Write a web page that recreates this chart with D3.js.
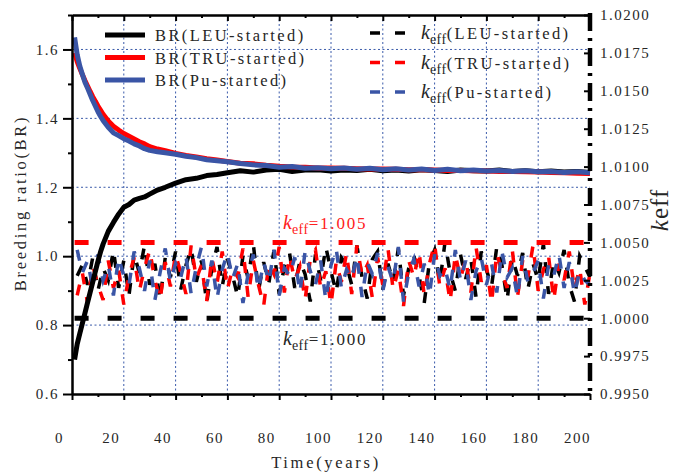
<!DOCTYPE html>
<html>
<head>
<meta charset="utf-8">
<script src="https://cdn.jsdelivr.net/npm/d3@7"></script>
<style>
  body { margin: 0; background: #fff; }
  svg { display: block; }
</style>
</head>
<body>
<svg id="chart" width="674" height="476"></svg>
<script>
// ---- data ----
const brYears = [1,2,3,4,5,6,7,8,9,10,11,12,14,16,18,20,22,24,26,28,30,33,36,40,44,48,52,56,60,
  65,70,75,80,85,90,95,100,105,110,115,120,125,130,135,140,145,150,155,160,165,170,175,180,185,190,195,200];

const brLEU = [0.700,0.745,0.775,0.805,0.835,0.865,0.895,0.925,0.955,0.985,1.012,1.035,1.072,1.098,1.122,1.142,1.150,1.163,1.168,1.172,1.180,1.192,1.200,1.212,1.222,1.226,1.234,1.237,1.242,
  1.248,1.244,1.250,1.252,1.246,1.250,1.251,1.247,1.250,1.249,1.252,1.248,1.250,1.247,1.251,1.249,1.246,1.250,1.248,1.247,1.250,1.246,1.248,1.245,1.247,1.244,1.246,1.243];

const brTRU = [1.590,1.565,1.545,1.527,1.510,1.494,1.478,1.463,1.450,1.436,1.424,1.412,1.392,1.377,1.366,1.356,1.348,1.340,1.332,1.326,1.318,1.311,1.306,1.298,1.292,1.288,1.283,1.279,1.275,
  1.270,1.268,1.264,1.261,1.259,1.258,1.256,1.256,1.255,1.254,1.253,1.253,1.252,1.251,1.251,1.250,1.249,1.249,1.248,1.247,1.246,1.246,1.245,1.244,1.243,1.242,1.241,1.240];

const brPu = [1.635,1.585,1.552,1.528,1.505,1.488,1.470,1.452,1.436,1.420,1.406,1.394,1.374,1.358,1.350,1.341,1.334,1.326,1.320,1.312,1.307,1.303,1.300,1.296,1.290,1.286,1.280,1.277,1.274,
  1.269,1.265,1.263,1.258,1.260,1.255,1.257,1.254,1.256,1.252,1.255,1.251,1.254,1.250,1.253,1.249,1.252,1.248,1.250,1.247,1.249,1.246,1.248,1.245,1.246,1.243,1.245,1.242];

const keffYears = d3.range(2, 201, 2);

const keffLEU = [1.0028,1.0035,1.0022,1.0040,1.0018,1.0033,1.0025,1.0045,1.0020,1.0038,
  1.0015,1.0042,1.0030,1.0048,1.0022,1.0036,1.0012,1.0040,1.0027,1.0044,
  1.0019,1.0035,1.0046,1.0024,1.0038,1.0010,1.0033,1.0047,1.0021,1.0039,
  1.0028,1.0014,1.0041,1.0026,1.0049,1.0018,1.0037,1.0023,1.0045,1.0016,
  1.0034,1.0043,1.0020,1.0038,1.0029,1.0011,1.0042,1.0025,1.0047,1.0031,
  1.0017,1.0040,1.0035,1.0022,1.0048,1.0027,1.0013,1.0039,1.0044,1.0019,
  1.0036,1.0024,1.0046,1.0015,1.0033,1.0041,1.0028,1.0010,1.0037,1.0045,
  1.0023,1.0050,1.0030,1.0018,1.0042,1.0026,1.0039,1.0014,1.0044,1.0032,
  1.0021,1.0047,1.0035,1.0012,1.0040,1.0028,1.0043,1.0019,1.0036,1.0025,
  1.0049,1.0016,1.0038,1.0030,1.0045,1.0022,1.0011,1.0041,1.0034,1.0027];

const keffTRU = [1.0015,1.0030,1.0010,1.0035,1.0022,1.0012,1.0038,1.0020,1.0032,1.0009,
  1.0028,1.0040,1.0018,1.0033,1.0045,1.0025,1.0012,1.0037,1.0021,1.0042,
  1.0030,1.0016,1.0048,1.0026,1.0035,1.0011,1.0040,1.0023,1.0044,1.0019,
  1.0033,1.0027,1.0046,1.0014,1.0038,1.0022,1.0008,1.0036,1.0029,1.0047,
  1.0017,1.0041,1.0025,1.0034,1.0012,1.0039,1.0045,1.0020,1.0031,1.0009,
  1.0037,1.0024,1.0043,1.0016,1.0048,1.0028,1.0035,1.0013,1.0040,1.0022,
  1.0046,1.0019,1.0032,1.0008,1.0038,1.0027,1.0044,1.0015,1.0036,1.0049,
  1.0021,1.0033,1.0011,1.0042,1.0026,1.0039,1.0017,1.0047,1.0024,1.0035,
  1.0010,1.0043,1.0030,1.0020,1.0045,1.0014,1.0038,1.0027,1.0048,1.0018,
  1.0032,1.0041,1.0012,1.0036,1.0025,1.0044,1.0019,1.0033,1.0009,1.0030];

const keffPu = [1.0045,1.0030,1.0038,1.0020,1.0042,1.0025,1.0035,1.0015,1.0040,1.0028,
  1.0022,1.0044,1.0033,1.0018,1.0038,1.0012,1.0030,1.0046,1.0024,1.0036,
  1.0027,1.0041,1.0016,1.0034,1.0047,1.0021,1.0038,1.0013,1.0032,1.0043,
  1.0026,1.0036,1.0010,1.0029,1.0042,1.0019,1.0037,1.0024,1.0045,1.0015,
  1.0033,1.0028,1.0040,1.0017,1.0044,1.0031,1.0022,1.0038,1.0012,1.0035,
  1.0046,1.0020,1.0032,1.0026,1.0041,1.0014,1.0037,1.0029,1.0043,1.0018,
  1.0034,1.0024,1.0047,1.0011,1.0030,1.0039,1.0021,1.0036,1.0015,1.0042,
  1.0028,1.0033,1.0019,1.0045,1.0025,1.0038,1.0012,1.0031,1.0040,1.0022,
  1.0036,1.0017,1.0044,1.0027,1.0033,1.0014,1.0041,1.0024,1.0030,1.0038,
  1.0013,1.0035,1.0028,1.0042,1.0020,1.0037,1.0016,1.0031,1.0025,1.0022];

const refLines = [1.005, 1.000];

const xTicks   = [0,20,40,60,80,100,120,140,160,180,200];
const xMinor   = [10,30,50,70,90,110,130,150,170,190];
const yLTicks  = [0.6,0.8,1.0,1.2,1.4,1.6];
const yLMinor  = [0.7,0.9,1.1,1.3,1.5,1.7];
const yRTicks  = [0.995,0.9975,1.000,1.0025,1.005,1.0075,1.010,1.0125,1.015,1.0175,1.020];

const brNames   = ["BR(LEU-started)", "BR(TRU-started)", "BR(Pu-started)"];
const keffNames = ["(LEU-started)", "(TRU-started)", "(Pu-started)"];
const colors    = ["#000000", "#ff0000", "#3a55a6"];

// ---- layout ----
const SERIF = "'Liberation Serif', 'Times New Roman', serif";
const GRID  = "#3a5aaa";
const INK   = "#262626";

const svg = d3.select("#chart");
const x  = d3.scaleLinear([0, 200], [72, 590]);
const yL = d3.scaleLinear([0.6, 1.7], [394, 15]);
const yR = d3.scaleLinear([0.995, 1.020], [394, 15]);

// grid
svg.append("g").selectAll("line")
  .data(xTicks.slice(1, -1))
  .join("line")
    .attr("x1", d => x(d)).attr("x2", d => x(d))
    .attr("y1", 15).attr("y2", 394)
    .attr("stroke", GRID).attr("stroke-width", 1).attr("stroke-dasharray", "2,2.5");
svg.append("g").selectAll("line")
  .data(yLTicks.slice(1))
  .join("line")
    .attr("x1", 72).attr("x2", 590)
    .attr("y1", d => yL(d)).attr("y2", d => yL(d))
    .attr("stroke", GRID).attr("stroke-width", 1).attr("stroke-dasharray", "2,2.5");

// keff series (dashed, noisy)
const keffLine = d3.line().x((d, i) => x(keffYears[i])).y(d => yR(d));
[keffLEU, keffTRU, keffPu].forEach((s, i) => {
  svg.append("path")
    .attr("d", keffLine(s))
    .attr("fill", "none")
    .attr("stroke", colors[i])
    .attr("stroke-width", 3.5)
    .attr("stroke-dasharray", "11,13");
});

// reference lines keff = 1.005 / 1.000
svg.append("g").selectAll("line")
  .data(refLines)
  .join("line")
    .attr("x1", x(1)).attr("x2", 590)
    .attr("y1", d => yR(d)).attr("y2", d => yR(d))
    .attr("stroke", (d, i) => i === 0 ? "#ff0000" : "#000")
    .attr("stroke-width", 5)
    .attr("stroke-dasharray", "14,19");

// BR lines
const brLine = d3.line().x((d, i) => x(brYears[i])).y(d => yL(d));
[brLEU, brTRU, brPu].forEach((s, i) => {
  svg.append("path")
    .attr("d", brLine(s))
    .attr("fill", "none")
    .attr("stroke", colors[i])
    .attr("stroke-width", 5)
    .attr("stroke-linejoin", "round");
});

// axes
function styleAxis(g) {
  g.selectAll(".domain").attr("stroke", "#000").attr("stroke-width", 2);
  g.selectAll(".tick line").attr("stroke", "#000").attr("stroke-width", 2);
  g.selectAll("text").attr("font-family", SERIF).attr("font-size", 15)
    .attr("letter-spacing", 1.5).attr("fill", INK);
}

const gBottom = svg.append("g").attr("transform", "translate(0,394)")
  .call(d3.axisBottom(x).tickValues(xTicks).tickSize(6).tickSizeOuter(0).tickPadding(32));
styleAxis(gBottom);
gBottom.selectAll("text").attr("dx", -13);
svg.append("g").attr("transform", "translate(0,394)")
  .call(d3.axisBottom(x).tickValues(xMinor).tickSize(3).tickFormat("").tickSizeOuter(0))
  .call(styleAxis);

svg.append("g").attr("transform", "translate(0,15)")
  .call(d3.axisBottom(x).tickValues(xTicks).tickSize(6).tickFormat("").tickSizeOuter(0))
  .call(styleAxis);
svg.append("g").attr("transform", "translate(0,15)")
  .call(d3.axisBottom(x).tickValues(xMinor).tickSize(3).tickFormat("").tickSizeOuter(0))
  .call(styleAxis);

svg.append("g").attr("transform", "translate(72,0)")
  .call(d3.axisLeft(yL).tickValues(yLTicks).tickFormat(d3.format(".1f")).tickSize(9).tickSizeOuter(0).tickPadding(4))
  .call(styleAxis);
svg.append("g").attr("transform", "translate(72,0)")
  .call(d3.axisLeft(yL).tickValues(yLMinor).tickFormat("").tickSize(4).tickSizeOuter(0))
  .call(styleAxis);

const gRight = svg.append("g").attr("transform", "translate(590,0)")
  .call(d3.axisRight(yR).tickValues(yRTicks).tickFormat(d3.format(".4f")).tickSize(-6).tickSizeOuter(0).tickPadding(10));
styleAxis(gRight);
gRight.select(".domain").remove();
svg.append("line")
  .attr("x1", 590).attr("x2", 590).attr("y1", 13).attr("y2", 396)
  .attr("stroke", "#000").attr("stroke-width", 4.5)
  .attr("stroke-dasharray", "18,7,3,7");

// axis titles
svg.append("text")
  .attr("transform", "translate(26,203) rotate(-90)")
  .attr("text-anchor", "middle")
  .attr("font-family", SERIF).attr("font-size", 16.5).attr("letter-spacing", 2.7).attr("fill", INK)
  .text("Breeding ratio(BR)");

svg.append("text")
  .attr("x", 326).attr("y", 468)
  .attr("text-anchor", "middle")
  .attr("font-family", SERIF).attr("font-size", 16.5).attr("letter-spacing", 2.7).attr("fill", INK)
  .text("Time(years)");

const rt = svg.append("text")
  .attr("transform", "translate(668,210) rotate(-90)")
  .attr("text-anchor", "middle")
  .attr("font-family", SERIF).attr("font-size", 25).attr("letter-spacing", 1).attr("fill", INK);
rt.append("tspan").attr("font-style", "italic").text("k");
rt.append("tspan").text("eff");

// legends
const legL = svg.append("g");
brNames.forEach((name, i) => {
  const yy = 35 + i * 22.5;
  legL.append("line")
    .attr("x1", 105).attr("x2", 145).attr("y1", yy).attr("y2", yy)
    .attr("stroke", colors[i]).attr("stroke-width", 5);
  legL.append("text")
    .attr("x", 155).attr("y", yy + 6)
    .attr("font-family", SERIF).attr("font-size", 16.5).attr("letter-spacing", 2.4).attr("fill", INK)
    .text(name);
});

const legR = svg.append("g");
keffNames.forEach((name, i) => {
  const yy = 33 + i * 29.5;
  legR.append("line")
    .attr("x1", 370).attr("x2", 405).attr("y1", yy).attr("y2", yy)
    .attr("stroke", colors[i]).attr("stroke-width", 3.5)
    .attr("stroke-dasharray", "10,15");
  const t = legR.append("text")
    .attr("x", 421).attr("y", yy + 6)
    .attr("font-family", SERIF).attr("font-size", 16.5).attr("fill", INK);
  t.append("tspan").attr("font-style", "italic").attr("font-size", 20).text("k");
  t.append("tspan").attr("font-size", 14).attr("dy", 5).attr("letter-spacing", 0.5).text("eff");
  t.append("tspan").attr("dy", -5).attr("letter-spacing", 2.4).text(name);
});

// annotations
[[1.005, "#ff2020", 223], [1.000, INK, 339]].forEach(([v, c, yy]) => {
  const t = svg.append("text")
    .attr("x", 283).attr("y", yy + 6)
    .attr("font-family", SERIF).attr("fill", c).attr("font-size", 17);
  t.append("tspan").attr("font-style", "italic").attr("font-size", 20).text("k");
  t.append("tspan").attr("font-size", 14).attr("dy", 5).attr("letter-spacing", 0.5).text("eff");
  t.append("tspan").attr("dy", -5).attr("letter-spacing", 1.8).text("=" + d3.format(".3f")(v));
});
</script>
</body>
</html>
